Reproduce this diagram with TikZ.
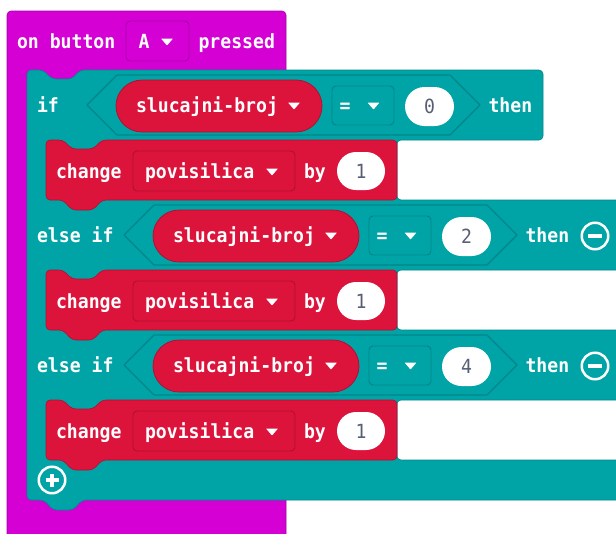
\documentclass[tikz,border=0pt]{standalone}
\usepackage{fontspec}
\usetikzlibrary{shapes.misc}
\newfontfamily\blkfont{DejaVu Sans Mono}[FakeStretch=0.93]
\definecolor{evt}{HTML}{D400D4}
\definecolor{evtdk}{HTML}{A800A8}
\definecolor{logic}{HTML}{00A4A6}
\definecolor{logicdk}{HTML}{00858A}
\definecolor{var}{HTML}{DC143C}
\definecolor{vardk}{HTML}{B01030}
\definecolor{numgray}{HTML}{575E75}
\tikzset{
  wlbl/.style={anchor=base west, inner sep=0pt, outer sep=0pt, text=white,
    font=\blkfont\bfseries\fontsize{19.5}{21}\selectfont},
  numlbl/.style={rounded rectangle, fill=white, draw=none, inner sep=0pt,
    minimum width=49pt, minimum height=39pt, text=numgray,
    font=\blkfont\fontsize{19.5}{21}\selectfont},
  ddbox/.style={rectangle, rounded corners=4pt, inner sep=0pt, line width=0.9pt},
  varpill/.style={rounded rectangle, fill=var, draw=vardk, line width=0.8pt,
    inner sep=0pt, minimum height=52pt},
  ringbtn/.style={circle, draw=white, line width=2.5pt, minimum size=26.5pt, inner sep=0pt},
  ddtri/.pic={\fill[white, rounded corners=0.6pt] (-6,-9.5) -- (6,-9.5) -- (0,-2.5) -- cycle;},
}
\begin{document}
\begin{tikzpicture}[x=1pt,y=-1pt]
\useasboundingbox (0,0) rectangle (616,533);
\clip (0,0) rectangle (616,533);
% event block (magenta)
\path[fill=evt, draw=evtdk, line width=0.6pt, rounded corners=4pt]
  (7,560) -- (7,11) -- (286,11) -- (286,560) -- cycle;
\node[ddbox, fill=evt, draw=evtdk, minimum width=63pt, minimum height=40pt] (ddA) at (157.5,41) {};
\node[wlbl] (onbtn) at (17,48) {on button};
\node[wlbl] (lblA) at (138.5,48) {A};
\pic at (167,48) {ddtri};
\node[wlbl] (pressed) at (198.5,48) {pressed};
% if / else-if block (teal)
\path[fill=logic, draw=logicdk, line width=0.6pt, rounded corners=4pt]
  (27,70) -- (43,70) -- (52,79) -- (72,79) -- (80,70) -- (543,70) -- (543,140)
  -- (397,140) -- (397,200) -- (630,200) -- (630,270) -- (397,270) -- (397,330)
  -- (630,330) -- (630,400) -- (397,400) -- (397,460) -- (630,460) -- (630,500)
  -- (82,500) -- (73,510) -- (53,510) -- (44,500) -- (27,500) -- cycle;
% condition rows
\foreach \k/\dx/\dy/\num/\word in {1/0/0/0/if, 2/37/130/2/else if, 3/37/260/4/else if}{
  \node[wlbl] (cond\k) at (37,{112+\dy}) {\word};
  \draw[logicdk, line width=1.1pt, line join=round]
    ({87+\dx},{105+\dy}) -- ({117+\dx},{75+\dy}) -- ({450+\dx},{75+\dy})
    -- ({480+\dx},{105+\dy}) -- ({450+\dx},{135+\dy}) -- ({117+\dx},{135+\dy}) -- cycle;
  \node[varpill, minimum width=206pt] (pill\k) at ({219+\dx},{106+\dy}) {};
  \node[wlbl] (pv\k) at ({136+\dx},{112+\dy}) {slucajni-broj};
  \pic at ({294+\dx},{112+\dy}) {ddtri};
  \node[ddbox, fill=logic, draw=logicdk, minimum width=62pt, minimum height=39pt] (eq\k) at ({363+\dx},{105.5+\dy}) {};
  \node[wlbl] (eqs\k) at ({339.5+\dx},{112+\dy}) {=};
  \pic at ({373.5+\dx},{112+\dy}) {ddtri};
  \node[numlbl] (num\k) at ({429.5+\dx},{106.5+\dy}) {\num};
  \node[wlbl] (then\k) at ({488.5+\dx},{112+\dy}) {then};
}
% minus buttons
\foreach \k/\dy in {2/130, 3/260}{
  \node[ringbtn] (minus\k) at (595,{106+\dy}) {};
  \draw[white, line width=4.6pt] (minus\k.center) ++(-7,0) -- ++(14,0);
}
% change blocks (red)
\foreach \k/\dy in {1/0, 2/130, 3/260}{
  \path[fill=var, draw=vardk, line width=0.6pt, rounded corners=4pt]
    (46,{140+\dy}) -- (63,{140+\dy}) -- (72,{149+\dy}) -- (93,{149+\dy}) -- (102,{140+\dy})
    -- (397,{140+\dy}) -- (397,{200+\dy}) -- (102,{200+\dy}) -- (93,{210+\dy})
    -- (72,{210+\dy}) -- (63,{200+\dy}) -- (46,{200+\dy}) -- cycle;
  \node[wlbl] (chg\k) at (56,{178+\dy}) {change};
  \node[ddbox, fill=var, draw=vardk, minimum width=162pt, minimum height=40pt] (vb\k) at (214,{171+\dy}) {};
  \node[wlbl] (vn\k) at (145,{178+\dy}) {povisilica};
  \pic at (272,{178+\dy}) {ddtri};
  \node[wlbl] (by\k) at (304,{178+\dy}) {by};
  \node[numlbl, minimum width=48pt, minimum height=38pt] (one\k) at (361,{171+\dy}) {1};
}
% plus button
\node[ringbtn] (plus) at (52,480) {};
\draw[white, line width=4.6pt] (plus.center) ++(-6.5,0) -- ++(13,0);
\draw[white, line width=4.6pt] (plus.center) ++(0,-6.5) -- ++(0,13);
\end{tikzpicture}
\end{document}
